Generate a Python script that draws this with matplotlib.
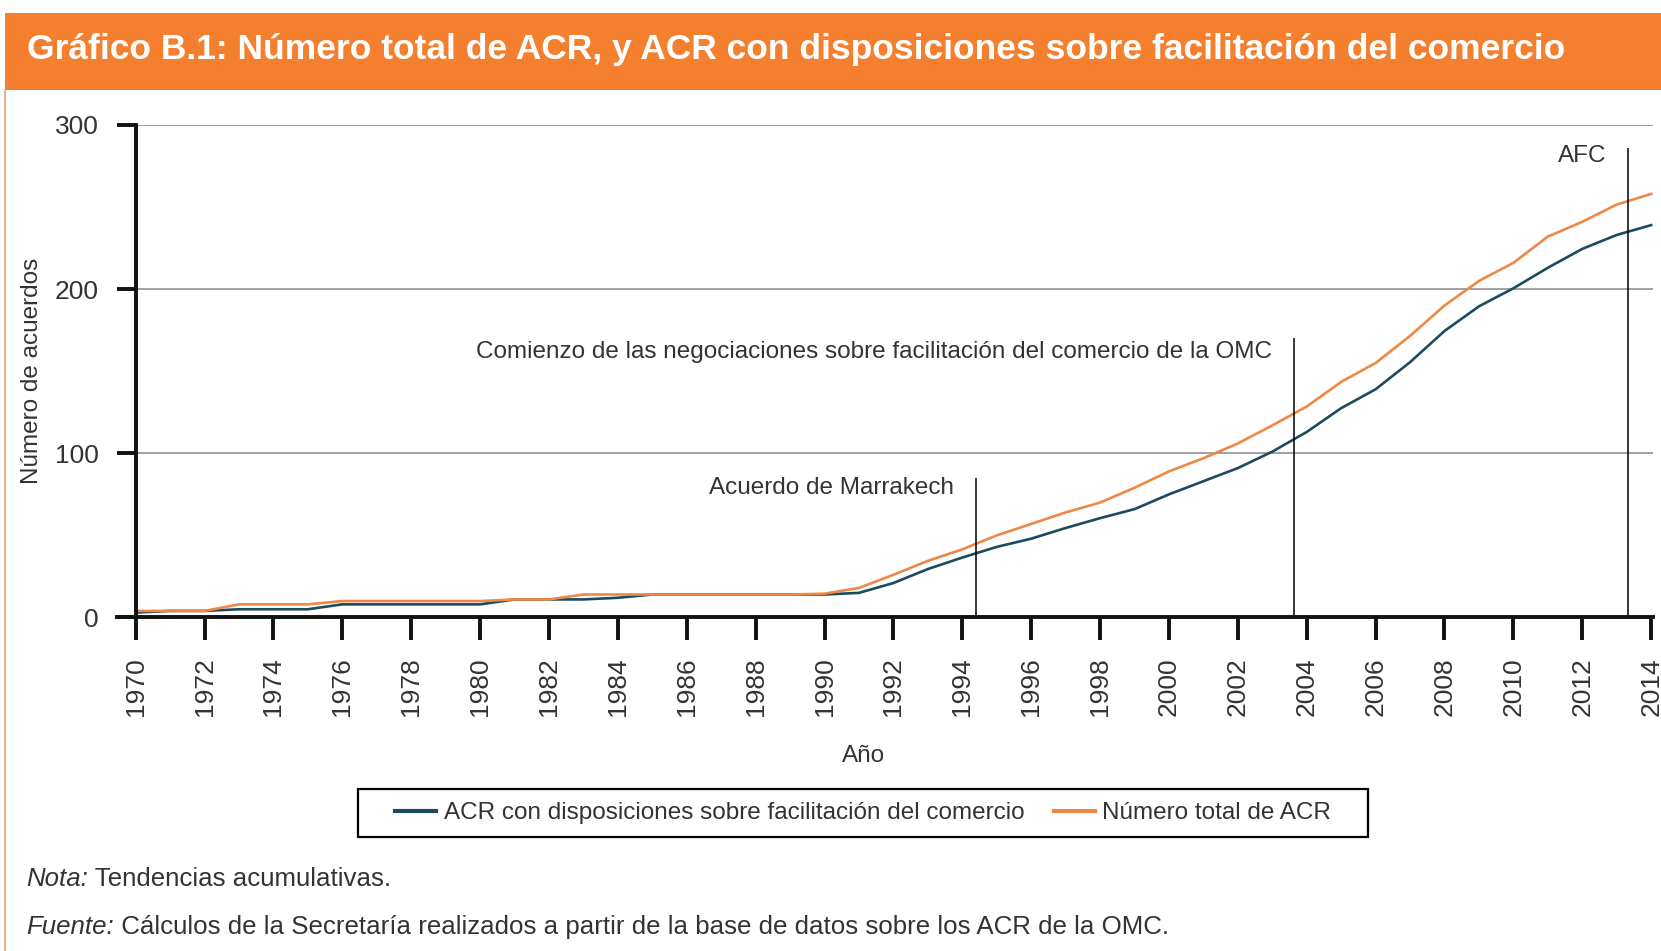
import matplotlib.pyplot as plt
from matplotlib.patches import Rectangle
from matplotlib.lines import Line2D

plt.rcParams['font.family'] = ['Liberation Sans', 'DejaVu Sans']

years = list(range(1970, 2015))
# numero total de ACR (orange)
total_acr = [4, 4, 4, 8, 8, 8, 10, 10, 10, 10, 10, 11, 11, 14, 14,
             14, 14, 14, 14, 14, 14.5, 18, 26, 34.5, 41.5, 50, 57, 64, 70, 79,
             89, 97, 106, 117, 128.5, 143.5, 155, 171.5, 190, 205, 216, 232, 241, 251.5, 258]
# ACR con disposiciones sobre facilitacion del comercio (dark)
acr_fc = [3, 4, 4, 5, 5, 5, 8, 8, 8, 8, 8, 11, 11, 11, 12,
          14, 14, 14, 14, 14, 14, 15, 21, 29.5, 36.5, 43, 48, 54.5, 60.5, 66,
          75, 83, 91, 101, 113, 127.5, 139, 155.5, 174.5, 189.5, 200.5, 213, 224.5, 233, 239]

event_years = [1994.4, 2003.62, 2013.34]
event_tops = [85, 170, 286]
event_text_y = [79, 162, 281]
event_labels = ["Acuerdo de Marrakech",
                "Comienzo de las negociaciones sobre facilitación del comercio de la OMC",
                "AFC"]

orange = '#EF8746'
dark = '#1C4A5E'
header = '#F47F2E'
txt = '#333333'

fig = plt.figure(figsize=(16.61, 9.51), dpi=100)

# header band + left border
fig.patches.append(Rectangle((0.0032, 0.9054), 0.9968, 0.0812, transform=fig.transFigure,
                             facecolor=header, edgecolor='none'))
fig.lines.append(Line2D([0.0032, 0.0032], [0.0, 0.9054], transform=fig.transFigure,
                        color='#F0A080', lw=1.2))
fig.text(0.016, 0.9476, "Gráfico B.1: Número total de ACR, y ACR con disposiciones sobre facilitación del comercio",
         color='white', fontsize=25.5, fontweight='bold', va='center', ha='left')

ax = fig.add_axes([0.0703, 0.3507, 0.9248, 0.5179])
ax.plot(years, acr_fc, color=dark, lw=1.9, label='ACR con disposiciones sobre facilitación del comercio')
ax.plot(years, total_acr, color=orange, lw=1.9, label='Número total de ACR')

ax.set_xlim(1969.45, 2014.05)
ax.set_ylim(0, 300)
ax.hlines([100, 200, 300], 1970, 2014.05, color='#9A9A9A', lw=1.3, zorder=0)

for x, top, ty, lab in zip(event_years, event_tops, event_text_y, event_labels):
    ax.vlines(x, 0, top, color='black', lw=1.1)
    ax.text(x - 0.64, ty, lab, ha='right', va='center', fontsize=17.5, color=txt)

ax.spines['top'].set_visible(False)
ax.spines['right'].set_visible(False)
ax.spines['left'].set_position(('data', 1970))
for s in ['left', 'bottom']:
    ax.spines[s].set_linewidth(2.8)
    ax.spines[s].set_color('#111111')

ax.set_xticks(years[::2])
ax.set_xticklabels([str(y) for y in years[::2]], rotation=90, fontsize=19, color=txt)
ax.set_yticks([0, 100, 200, 300])
ax.set_yticklabels(['0', '100', '200', '300'], fontsize=19, color=txt)
ax.tick_params(axis='x', length=16.5, width=2.8, color='#111111', pad=12)
ax.tick_params(axis='y', length=13.5, width=2.8, color='#111111', pad=13)

fig.text(0.5196, 0.2050, "Año", fontsize=17.5, ha='center', va='center', color=txt)
fig.text(0.0193, 0.6099, "Número de acuerdos", fontsize=17.5, rotation=90,
         ha='center', va='center', color=txt)

# legend: box drawn separately for the wider padding
fig.patches.append(Rectangle((0.2156, 0.1199), 0.6077, 0.0505, transform=fig.transFigure,
                             facecolor='white', edgecolor='black', lw=1.6, zorder=1))
leg = fig.legend(loc='center', bbox_to_anchor=(0.5196, 0.1451), ncol=2, fontsize=17.5,
                 frameon=False, handlelength=1.7, columnspacing=1.2,
                 handletextpad=0.3, borderpad=0.45)
leg.set_zorder(2)
for t in leg.get_texts():
    t.set_color(txt)
for h in leg.get_lines():
    h.set_linewidth(3)

# notes with italic lead-in
r = fig.canvas.get_renderer()
for y, lead, rest in [(0.0757, "Nota:", " Tendencias acumulativas."),
                      (0.0252, "Fuente:", " Cálculos de la Secretaría realizados a partir de la base de datos sobre los ACR de la OMC.")]:
    t1 = fig.text(0.016, y, lead, fontsize=18.6, style='italic', va='center', color=txt)
    bb = t1.get_window_extent(renderer=r)
    fig.text(bb.x1 / fig.bbox.width, y, rest, fontsize=18.6, va='center', color=txt)

fig.savefig('out.png', dpi=100)
